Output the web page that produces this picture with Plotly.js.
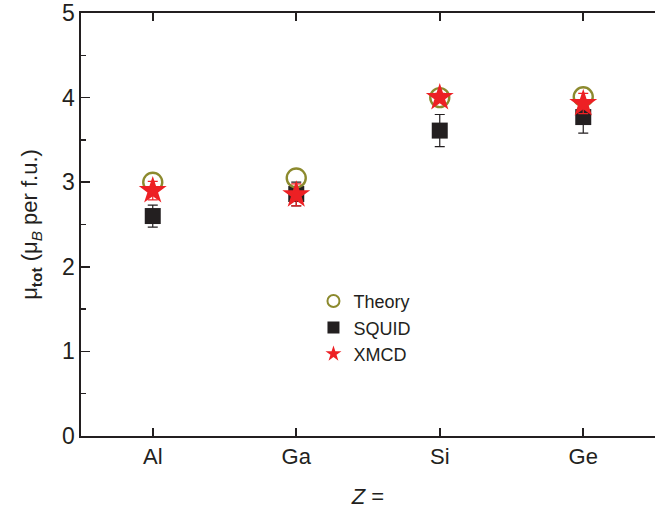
<!DOCTYPE html>
<html>
<head>
<meta charset="utf-8">
<script src="https://cdn.plot.ly/plotly-3.0.1.min.js"></script>
<style>html,body{margin:0;padding:0;background:#fff;}#chart{width:656px;height:515px;}</style>
</head>
<body>
<div id="chart"></div>
<script>
const categories = ["Al", "Ga", "Si", "Ge"];
const theory = [3.0, 3.05, 4.0, 4.01];
const squid = [2.6, 2.86, 3.61, 3.77];
const squidErr = [0.13, 0.14, 0.19, 0.19];
const xmcd = [2.9, 2.85, 4.0, 3.93];
const xmcdErr = [0.11, 0.13, 0.05, 0.12];
const yTicks = [0, 1, 2, 3, 4, 5];

const ink = "#231f20";
const fontFam = "Liberation Sans, Arial, sans-serif";

const traces = [
  {
    name: "SQUID", x: categories, y: squid, type: "scatter", mode: "markers",
    legendrank: 2,
    marker: {symbol: "square", size: 16, color: ink},
    error_y: {type: "data", array: squidErr, visible: true, color: ink, thickness: 1.2, width: 5}
  },
  {
    name: "Theory", x: categories, y: theory, type: "scatter", mode: "markers",
    legendrank: 1,
    marker: {symbol: "circle-open", size: 19, color: "#8c8a2e", line: {width: 2.4, color: "#8c8a2e"}}
  },
  {
    name: "XMCD", x: categories, y: xmcd, type: "scatter", mode: "markers",
    legendrank: 3,
    marker: {symbol: "star", size: 21, color: "#ed2024"},
    error_y: {type: "data", array: xmcdErr, visible: true, color: "#ed2024", thickness: 1.2, width: 5}
  }
];

const layout = {
  width: 656, height: 515,
  margin: {l: 81, r: 1, t: 13, b: 79},
  paper_bgcolor: "#fff", plot_bgcolor: "#fff",
  font: {family: fontFam, color: ink, size: 20},
  showlegend: true,
  legend: {x: 0.405, y: 0.362, xanchor: "left", yanchor: "top", bgcolor: "rgba(0,0,0,0)",
           font: {size: 18, color: ink}, tracegroupgap: 0, itemsizing: "constant", itemwidth: 30},
  xaxis: {
    type: "category", categoryorder: "array", categoryarray: categories,
    range: [-0.5, 3.5], showgrid: false, zeroline: false,
    showline: true, linecolor: ink, linewidth: 1.6, mirror: "ticks",
    ticks: "inside", ticklen: 8, tickwidth: 1.6, tickcolor: ink,
    tickfont: {size: 22, color: ink},
    title: {text: "<i>Z</i> =", font: {size: 22, color: ink}, standoff: 20}
  },
  yaxis: {
    range: [0, 5], tickvals: yTicks, showgrid: false, zeroline: false,
    showline: true, linecolor: ink, linewidth: 1.6,
    ticks: "inside", ticklen: 9, tickwidth: 1.6, tickcolor: ink,
    minor: {dtick: 0.5, ticks: "inside", ticklen: 5, tickwidth: 1.4, tickcolor: ink, showgrid: false},
    tickfont: {size: 23, color: ink},
    title: {text: "μ<sub><b>tot</b></sub> (μ<sub><i>B</i></sub> per f.u.)", font: {size: 22, color: ink}, standoff: 18}
  }
};

Plotly.newPlot("chart", traces, layout, {displayModeBar: false, staticPlot: true});
</script>
</body>
</html>
